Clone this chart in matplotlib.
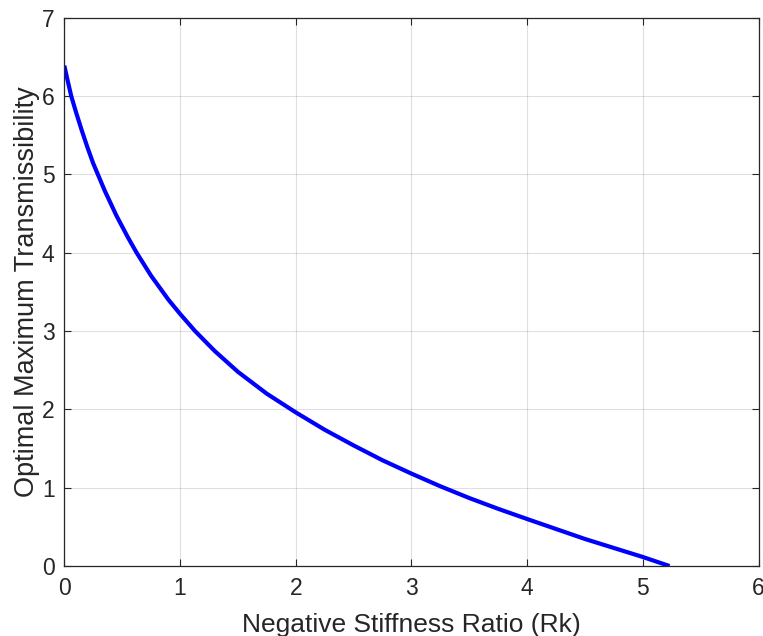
import matplotlib

matplotlib.use("Agg")
import matplotlib.pyplot as plt

# values
rk = [0.0, 0.03, 0.06, 0.1, 0.15, 0.2, 0.25, 0.29, 0.35, 0.45, 0.55, 0.625, 0.75,
      0.9, 1.0, 1.13, 1.3, 1.5, 1.75, 2.0, 2.25, 2.5, 2.75, 3.0, 3.25, 3.5, 3.75,
      4.0, 4.5, 5.0, 5.23]
t_max = [6.39, 6.19, 6.00, 5.80, 5.565, 5.345, 5.14, 5.00, 4.79, 4.475, 4.195, 4.00, 3.706,
         3.40, 3.22, 3.00, 2.745, 2.48, 2.20, 1.962, 1.74, 1.54, 1.35, 1.18, 1.018, 0.868, 0.73,
         0.60, 0.345, 0.115, 0.0]

x_ticks = [0, 1, 2, 3, 4, 5, 6]
y_ticks = [0, 1, 2, 3, 4, 5, 6, 7]

plt.rcParams["font.family"] = ["Liberation Sans", "DejaVu Sans"]

fig = plt.figure(figsize=(7.63, 6.36), dpi=100)
ax = fig.add_axes([0.0843, 0.110, 0.910, 0.862])

ax.plot(rk, t_max, color="#0000ff", linewidth=3.0, solid_capstyle="butt",
        solid_joinstyle="round")

ax.set_xlim(0, 6)
ax.set_ylim(0, 7)
ax.set_xticks(x_ticks)
ax.set_yticks(y_ticks)
ax.grid(True, color="#000000", alpha=0.12, linewidth=0.8)
ax.set_axisbelow(True)

ax.tick_params(direction="in", top=True, right=True, length=5, width=0.8,
               colors="#262626", labelsize=16.5)
ax.tick_params(axis="x", pad=8)
ax.tick_params(axis="y", pad=7)
for spine in ax.spines.values():
    spine.set_color("#262626")
    spine.set_linewidth(0.9)

ax.set_xlabel("Negative Stiffness Ratio (Rk)", fontsize=19, color="#262626", labelpad=9)
ax.set_ylabel("Optimal Maximum Transmissibility", fontsize=19.5, color="#262626", labelpad=1)

fig.savefig("out.png", dpi=100)
plt.close(fig)
